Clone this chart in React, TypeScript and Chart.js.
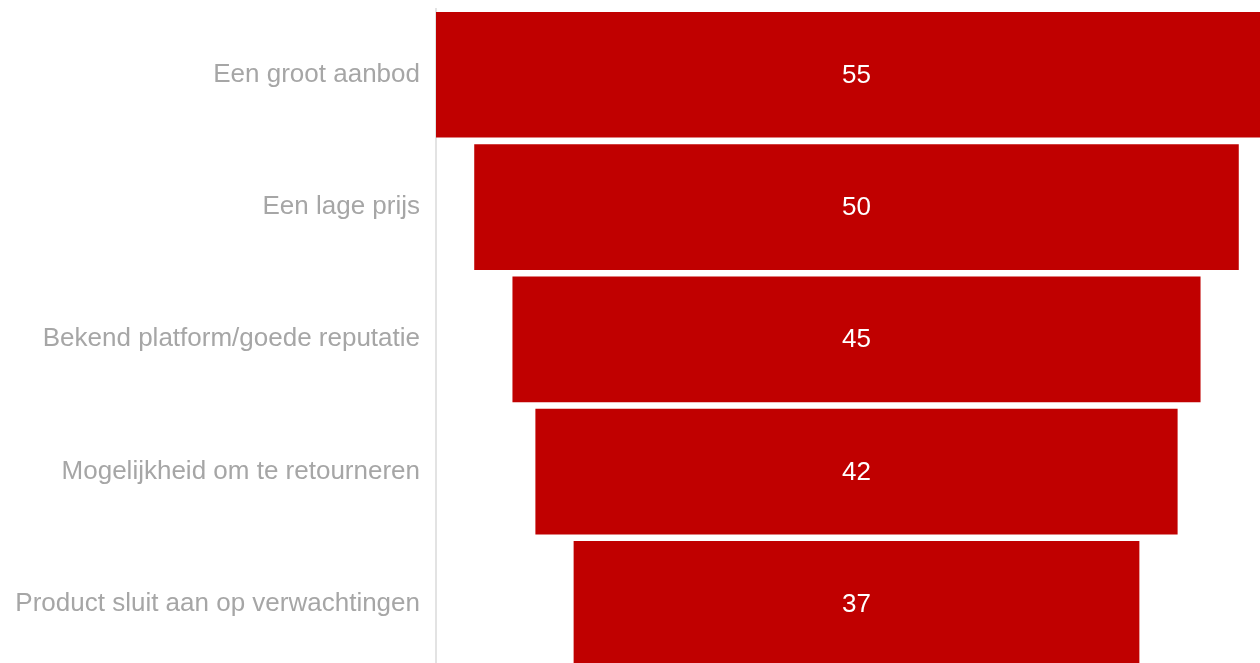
import React, { useEffect, useRef } from "react";
import { Chart, registerables } from "chart.js";

Chart.register(...registerables);

const categories = [
  "Een groot aanbod",
  "Een lage prijs",
  "Bekend platform/goede reputatie",
  "Mogelijkheid om te retourneren",
  "Product sluit aan op verwachtingen",
];
const values = [55, 50, 45, 42, 37];
const axisHalfRange = 27.5;

const labelPlugin = {
  id: "centerLabels",
  afterDatasetsDraw(chart: any) {
    const ctx = chart.ctx;
    const meta = chart.getDatasetMeta(0);
    ctx.save();
    ctx.fillStyle = "#ffffff";
    ctx.font = '26px "Liberation Sans", Arial, sans-serif';
    ctx.textAlign = "center";
    ctx.textBaseline = "middle";
    const cx = chart.scales.x.getPixelForValue(0);
    meta.data.forEach((bar: any, i: number) => {
      ctx.fillText(String(values[i]), cx, bar.y + 1);
    });
    ctx.restore();
  },
};

export default function App() {
  const ref = useRef<HTMLCanvasElement>(null);
  useEffect(() => {
    if (!ref.current) return;
    const chart = new Chart(ref.current, {
      type: "bar",
      data: {
        labels: categories,
        datasets: [
          {
            data: values.map((v) => [-v / 2, v / 2]) as any,
            backgroundColor: "#c00000",
            borderWidth: 0,
            barPercentage: 0.95,
            categoryPercentage: 1,
          },
        ],
      },
      options: {
        indexAxis: "y",
        animation: false,
        responsive: false,
        devicePixelRatio: 1,
        layout: { padding: { top: 8.65, bottom: 2, right: 3, left: 0 } },
        plugins: { legend: { display: false }, tooltip: { enabled: false } },
        scales: {
          x: {
            display: false,
            min: -axisHalfRange,
            max: axisHalfRange,
          },
          y: {
            afterFit(scale: any) {
              scale.width = 436;
              scale.paddingTop = 0;
              scale.paddingBottom = 0;
            },
            grid: { display: false, drawTicks: false },
            border: { display: true, color: "#e3e3e3", width: 2 },
            ticks: {
              padding: 16,
              color: "#a6a6a6",
              font: { family: '"Liberation Sans", Arial, sans-serif', size: 26 },
            },
          },
        },
      },
      plugins: [labelPlugin],
    });
    return () => chart.destroy();
  }, []);
  return (
    <div
      style={{
        position: "fixed",
        left: 0,
        top: 0,
        width: 1260,
        height: 663,
        overflow: "hidden",
        background: "#ffffff",
      }}
    >
      <canvas ref={ref} width={1280} height={672} style={{ display: "block" }} />
    </div>
  );
}
